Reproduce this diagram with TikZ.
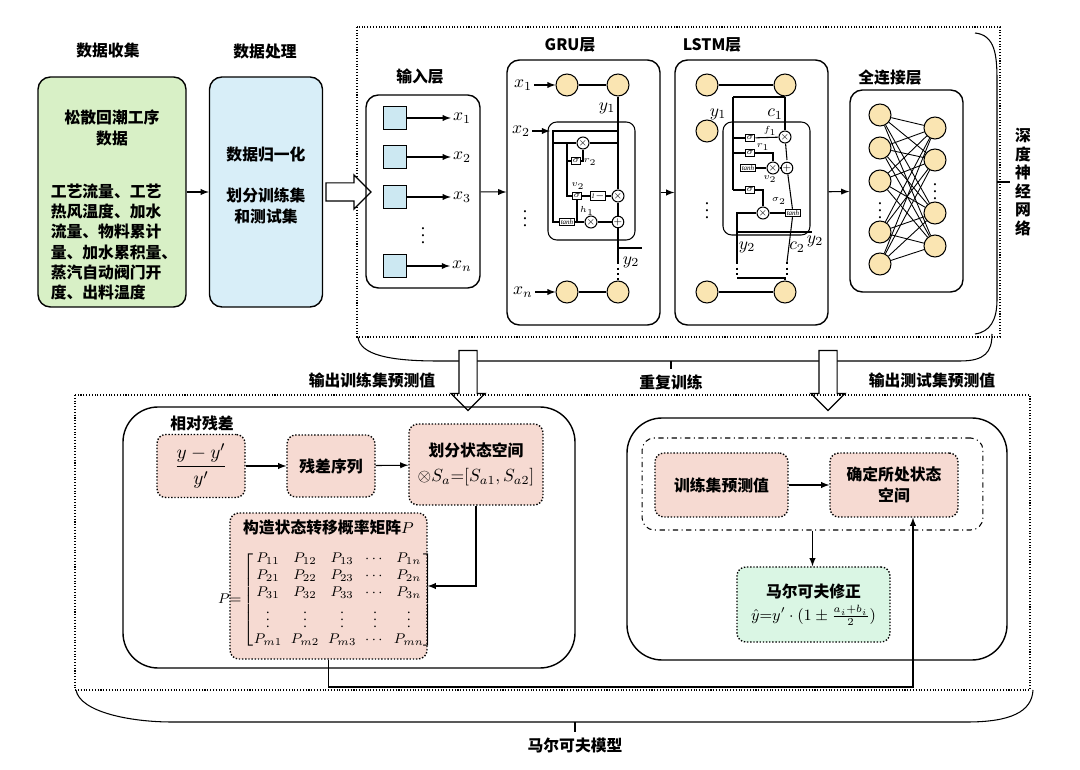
\documentclass[tikz,border=0pt]{standalone}
\usepackage{fontspec}
\usepackage{amsmath}
\setmainfont{Liberation Serif}
\newfontfamily\cjk{Noto Sans CJK SC}
\usetikzlibrary{arrows,positioning,shapes,shapes.arrows}
\definecolor{grn}{RGB}{216,240,198}
\definecolor{blu}{RGB}{216,238,248}
\definecolor{pnk}{RGB}{246,218,210}
\definecolor{cel}{RGB}{250,229,178}
\definecolor{mnt}{RGB}{218,246,228}
\definecolor{sqb}{RGB}{204,232,242}

\begin{document}
\begin{tikzpicture}[x=0.02cm,y=-0.02cm,>=latex,line width=0.6pt]
	\tikzstyle{hd}=[font=\cjk\bfseries\fontsize{9}{11.5}\selectfont]
	\tikzstyle{rbox}=[draw, rectangle, rounded corners=7pt, line width=0.8pt]
	\tikzstyle{pbox}=[draw, densely dotted, rectangle, rounded corners=5pt, fill=pnk, line width=0.8pt, align=center, font=\cjk\bfseries\fontsize{9}{12}\selectfont]
	\tikzstyle{cell}=[draw, circle, fill=cel, minimum size=0.44cm, inner sep=0pt]
	\tikzstyle{sq}=[draw, rectangle, fill=sqb, minimum size=0.46cm, inner sep=0pt]
	\tikzstyle{gt}=[draw, rectangle, fill=white, inner sep=0.7pt, font=\fontsize{4}{4}\selectfont\itshape]
	\tikzstyle{op}=[draw, circle, fill=white, inner sep=0pt, minimum size=0.2cm, font=\fontsize{5}{5}\selectfont]
	\tikzstyle{sm}=[font=\fontsize{5}{5}\selectfont, inner sep=0.5pt]
	\tikzstyle{ml}=[font=\fontsize{10}{11}\selectfont, inner sep=1pt]
	\tikzstyle{hollow}=[draw, single arrow, fill=white, line width=0.7pt, single arrow head extend=0.16cm, inner sep=0.17cm]
	\useasboundingbox (0,0) rectangle (1080,770);

	% data collection and processing
	\node[hd] (t1) at (108,50) {数据收集};
	\node[hd] (t2) at (265,52) {数据处理};
	\node[rbox, fill=grn, minimum width=2.96cm, minimum height=4.6cm] (col) at (112,192) {};
	\node[hd, align=center] (colt) at (112,128) {松散回潮工序\\数据};
	\node[hd, align=left] (coll) at (114,242) {工艺流量、工艺\\热风温度、加水\\流量、物料累计\\量、加水累积量、\\蒸汽自动阀门开\\度、出料温度};
	\node[rbox, fill=blu, minimum width=2.26cm, minimum height=4.6cm] (pro) at (266,192) {};
	\node[hd] (prot) at (266,155) {数据归一化};
	\node[hd, align=center] (prol) at (266,206) {划分训练集\\和测试集};
	\draw[->] (col) -- (pro);

	% deep network
	\draw[densely dotted] (357,27) rectangle (1000,337);
	\node[hollow, minimum height=0.9cm] (ha) at (344,192) {};
	\node[hd] (t3) at (420,77) {输入层};
	\node[rbox, minimum width=2.28cm, minimum height=3.86cm] (inl) at (423,191.5) {};
	\foreach \i/\y in {1/118,2/157,3/197} {
		\node[sq] (s\i) at (395,\y) {};
		\node[ml] (x\i) at (462,\y) {$x_{\i}$};
		\draw[->] (s\i) -- (x\i);
	}
	\node[sq] (sn) at (395,266) {};
	\node[ml] (xn) at (462,266) {$x_{n}$};
	\draw[->] (sn) -- (xn);
	\node[ml] (dd1) at (423,230) {$\vdots$};

	% GRU
	\node[hd] (t4) at (570,45) {GRU层};
	\node[rbox, minimum width=3.06cm, minimum height=5.3cm] (gru) at (583.5,192.5) {};
	\draw[->] (inl) -- (gru);
	\node[cell] (g1) at (567,85) {};
	\node[cell] (g2) at (618,85) {};
	\node[cell] (g3) at (567,292) {};
	\node[cell] (g4) at (618,292) {};
	\node[ml] (gx1) at (523,85) {$x_1$};
	\node[ml] (gxn) at (523,292) {$x_n$};
	\node[ml] (gx2) at (521,131) {$x_2$};
	\node[ml] (gd) at (525,213) {$\vdots$};
	\node[ml] (gy1) at (607,108) {$y_1$};
	\node[ml] (gy2) at (631,262) {$y_2$};
	\draw[->] (gx1) -- (g1);
	\draw[->] (gxn) -- (g3);
	\draw (g1) -- (g2);
	\draw (g3) -- (g4);
	\draw[rounded corners=5pt] (548,122) rectangle (635,240);
	\draw[->] (gx2) -- (550,131);
	\node[op] (gm1) at (583,143) {$\times$};
	\node[gt] (gs1) at (576,161) {$\sigma$};
	\node[gt] (gs2) at (577,196) {$\sigma$};
	\node[gt] (g1m) at (598,196) {1$-$};
	\node[op] (gm3) at (618,196) {$\times$};
	\node[gt] (gth) at (567,222) {tanh};
	\node[op] (gm2) at (591,222) {$\times$};
	\node[op] (ga1) at (618,222) {$+$};
	\node[sm] (gr2) at (590,162) {$r_2$};
	\node[sm] (gv2) at (578,186) {$v_2$};
	\node[sm] (gh1) at (587,211) {$h_1$};
	\draw (g2) -- (gm3) -- (ga1) -- (618,262);
	\draw (552,131) -- (618,131);
	\draw (553,143) -- (gm1) -- (618,143);
	\draw (553,131) |- (gth);
	\draw (567,143) |- (gs2);
	\draw (567,161) -- (gs1);
	\draw (gs1) -| (gm1);
	\draw (gs2) -- (g1m) -- (gm3);
	\draw (gs2) |- (gm2);
	\draw (gth) -- (gm2) -- (ga1);
	\draw (618,248) -- (642,248);
	\draw[dotted, line width=1.2pt] (618,262) -- (618,278);
	\draw (618,278) -- (g4);

	% LSTM
	\node[hd] (t5) at (712,45) {LSTM层};
	\node[rbox, minimum width=3.06cm, minimum height=5.3cm] (lst) at (751.5,192.5) {};
	\draw[->] (gru) -- (lst);
	\node[cell] (l1) at (707,85) {};
	\node[cell] (l2) at (785,85) {};
	\node[cell] (l3) at (707,131) {};
	\node[cell] (l4) at (707,292) {};
	\node[cell] (l5) at (785,292) {};
	\node[ml] (ld) at (707,205) {$\vdots$};
	\draw (l1) -- (l2);
	\draw (l4) -- (l5);
	\draw[rounded corners=5pt] (723,122) rectangle (810,235);
	\node[gt] (ls1) at (750,138) {$\sigma$};
	\node[gt] (ls2) at (750,153) {$\sigma$};
	\node[gt] (lth1) at (748,168) {tanh};
	\node[gt] (ls3) at (750,190) {$\sigma$};
	\node[op] (lm1) at (785,137) {$\times$};
	\node[op] (lm2) at (773,168) {$\times$};
	\node[op] (la1) at (787,168) {$+$};
	\node[op] (lm3) at (763,213) {$\times$};
	\node[gt] (lth2) at (793,213) {tanh};
	\node[sm] (lf1) at (770,131) {$f_1$};
	\node[sm] (lr1) at (763,147) {$r_1$};
	\node[sm] (lv2) at (770,179) {$v_2$};
	\node[sm] (lo2) at (779,201) {$\sigma_2$};
	\node[ml] (ly1) at (718,114) {$y_1$};
	\node[ml] (lc1) at (775,114) {$c_1$};
	\node[ml] (ly2a) at (747,247) {$y_2$};
	\node[ml] (lc2) at (797,247) {$c_2$};
	\node[ml] (ly2b) at (815,241) {$y_2$};
	\draw (l2) -- (lm1);
	\draw (lm1) -- (787,160);
	\draw (la1) -- (lth2);
	\draw (lth2) -- (787,262);
	\draw (733,97) -- (785,97);
	\draw (733,97) -- (733,190);
	\foreach \g in {ls1,ls2,ls3} \draw (733,0 |- \g) -- (\g);
	\draw (ls1) -- (lm1);
	\draw (ls2) -| (lm2);
	\draw (lth1) -- (lm2) -- (la1);
	\draw (ls3) -| (lm3);
	\draw (lm3) -- (lth2);
	\draw (lm3) -| (737,262);
	\draw (737,232) -- (812,232);
	\draw[dotted, line width=1.2pt] (737,262) -- (737,276);
	\draw[dotted, line width=1.2pt] (787,262) -- (787,276);
	\draw (737,278) -- (785,278) -- (l5);

	% fully connected
	\node[hd] (t6) at (890,78) {全连接层};
	\node[rbox, minimum width=2.26cm, minimum height=4.04cm] (fc) at (906.5,191) {};
	\draw[->] (lst) -- (fc);
	\foreach \i/\y in {1/115,2/148,3/181,4/232,5/264}
		\node[cell] (a\i) at (880,\y) {};
	\foreach \j/\y in {1/128,2/160,3/213,4/246}
		\node[cell] (b\j) at (935,\y) {};
	\foreach \i in {1,...,5}
		\foreach \j in {1,...,4}
			\draw[line width=0.5pt] (a\i) -- (b\j);
	\node[ml] (fd1) at (880,205) {$\vdots$};
	\node[ml] (fd2) at (935,186) {$\vdots$};

	% braces of the network
	\draw (975,33) .. controls (995,35) and (997,55) .. (997,80) -- (997,300) .. controls (997,320) and (990,332) .. (975,334);
	\draw (997,182) -- (1010,182);
	\node[hd, align=center, font=\cjk\bfseries\fontsize{9}{10.5}\selectfont] (dnn) at (1023,182) {深\\度\\神\\经\\网\\络};
	\draw (358,337) .. controls (360,355) and (390,361) .. (438,361) -- (960,361) .. controls (985,361) and (992,352) .. (992,334);
	\draw (671,361) -- (671,369);
	\node[hd] (rep) at (671,382) {重复训练};
	\node[hollow, shape border rotate=270, minimum height=1.2cm] (hb1) at (468,376) {};
	\node[hollow, shape border rotate=270, minimum height=1.2cm] (hb2) at (828,376) {};
	\node[hd] (otr) at (372,380) {输出训练集预测值};
	\node[hd] (ots) at (932,380) {输出测试集预测值};

	% markov model
	\draw[densely dotted] (75,395) rectangle (1030,690);
	\draw (76,690) .. controls (80,712) and (130,722) .. (172,722) -- (967,722) .. controls (1010,722) and (1032,712) .. (1033,690);
	\draw (575,722) -- (575,732);
	\node[hd] (mkv) at (575,746) {马尔可夫模型};

	\draw[rounded corners=20pt, line width=0.8pt] (123,407) rectangle (575,668);
	\node[hd] (rel) at (202,423) {相对残差};
	\node[pbox, minimum width=1.76cm, minimum height=1.26cm, font=\fontsize{11}{12}\selectfont] (frac) at (201,466) {$\dfrac{y-y'}{y'}$};
	\node[pbox, minimum width=1.76cm, minimum height=1.24cm] (res) at (331,466) {残差序列};
	\node[pbox, minimum width=2.68cm, minimum height=1.62cm] (div) at (476,464.5) {划分状态空间\\[2pt]{\normalfont\fontsize{10}{11}\selectfont$\otimes S_a{=}[S_{a1},S_{a2}]$}};
	\node[pbox, minimum width=3.94cm, minimum height=2.92cm] (mat) at (328.5,586) {};
	\node[hd] (matt) at (328.5,527) {构造状态转移概率矩阵$P$};
	\node[font=\fontsize{8}{10}\selectfont, inner sep=0pt] (matm) at (326,600) {\setlength\arraycolsep{2.5pt}\renewcommand\arraystretch{0.95}$P{=}\left[\begin{matrix}P_{11}&P_{12}&P_{13}&\cdots&P_{1n}\\P_{21}&P_{22}&P_{23}&\cdots&P_{2n}\\P_{31}&P_{32}&P_{33}&\cdots&P_{3n}\\\vdots&\vdots&\vdots&\vdots&\vdots\\P_{m1}&P_{m2}&P_{m3}&\cdots&P_{mn}\end{matrix}\right]$};
	\draw[->] (frac) -- (res);
	\draw[->] (res) -- (div);
	\draw[->] (div) |- (mat);

	\draw[rounded corners=20pt, line width=0.8pt] (627,418) rectangle (1007,660);
	\node[draw, dash dot, rounded corners=7pt, minimum width=6.82cm, minimum height=1.84cm] (dd) at (812.5,484) {};
	\node[pbox, minimum width=2.66cm, minimum height=1.28cm] (trp) at (721.5,485) {训练集预测值};
	\node[pbox, minimum width=2.56cm, minimum height=1.28cm] (conf) at (894,485) {确定所处状态\\空间};
	\node[pbox, fill=mnt, minimum width=3.06cm, minimum height=1.5cm] (mkc) at (813.5,604.5) {马尔可夫修正\\[1pt]{\normalfont\fontsize{9}{11}\selectfont$\hat{y}{=}y'\cdot(1\pm\frac{a_i+b_i}{2})$}};
	\draw[->] (trp) -- (conf);
	\draw[->] (dd) -- (dd.south |- mkc.north);
	\coordinate (lp) at (913,687);
	\draw[->] (mat) |- (lp) -- (lp |- conf.south);
\end{tikzpicture}
\end{document}
